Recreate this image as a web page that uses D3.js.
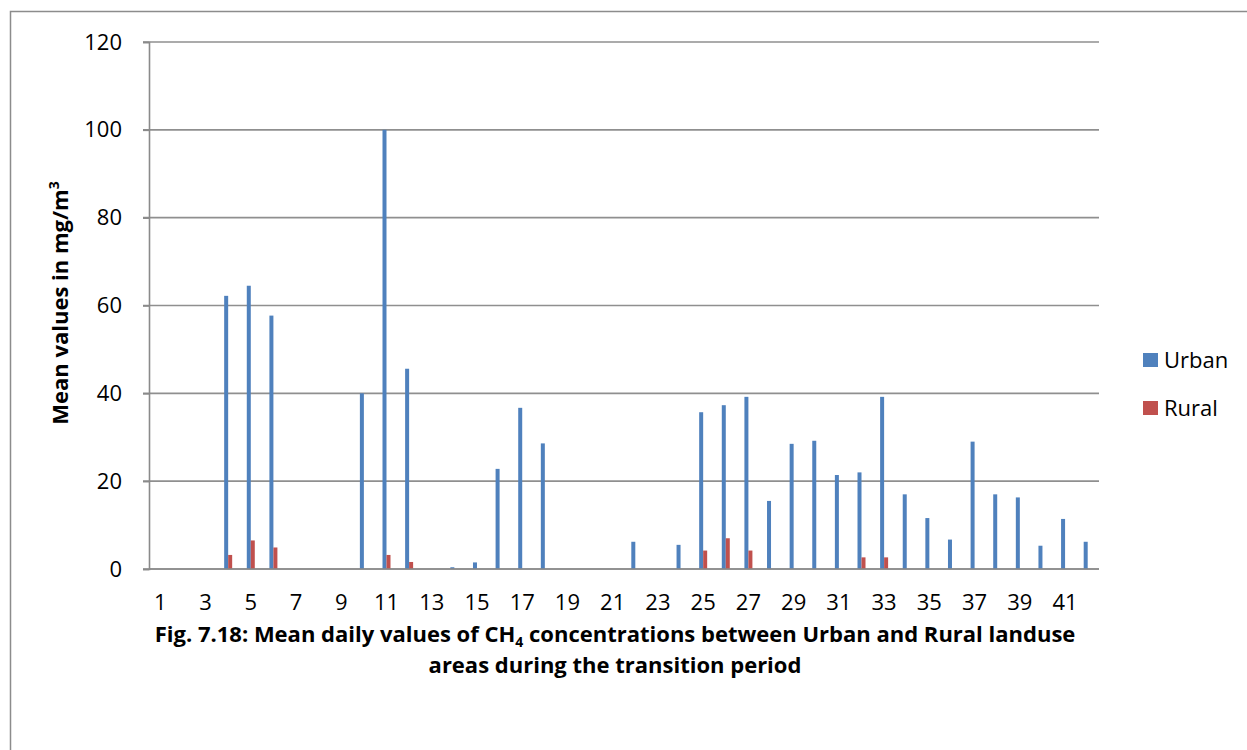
<!DOCTYPE html>
<html>
<head>
<meta charset="utf-8">
<script src="https://cdn.jsdelivr.net/npm/d3@7"></script>
<style>
  html, body { margin: 0; padding: 0; background: #fff; }
  svg { display: block; }
  text { font-family: "Open Sans", sans-serif; }
</style>
</head>
<body>
<svg id="chart" width="1247" height="750"></svg>
<script>
// Days of the transition period
const days = d3.range(1, 43).map(String);

// Mean daily CH4 concentration (mg/m3), urban sites
const urban = [
  0, 0, 0, 62.2, 64.5, 57.7, 0, 0, 0, 40.0,
  100.0, 45.6, 0, 0.4, 1.5, 22.8, 36.7, 28.6, 0, 0,
  0, 6.2, 0, 5.5, 35.7, 37.3, 39.2, 15.5, 28.5, 29.2,
  21.4, 22.0, 39.2, 17.0, 11.6, 6.7, 29.0, 17.0, 16.3, 5.3,
  11.4, 6.2
];

// Mean daily CH4 concentration (mg/m3), rural sites
const rural = [
  0, 0, 0, 3.2, 6.5, 4.9, 0, 0, 0, 0,
  3.2, 1.6, 0, 0, 0, 0, 0, 0, 0, 0,
  0, 0, 0, 0, 4.2, 7.0, 4.2, 0, 0, 0,
  0, 2.65, 2.65, 0, 0, 0, 0, 0, 0, 0,
  0, 0
];

const seriesNames = ["Urban", "Rural"];
const seriesColors = ["#4F81BD", "#C0504D"];
const yTicks = [0, 20, 40, 60, 80, 100, 120];

const FONT = "'Open Sans', sans-serif";
const svg = d3.select("#chart");

// Outer chart frame
svg.append("rect")
  .attr("x", 10.5).attr("y", 11.5)
  .attr("width", 1400).attr("height", 900)
  .attr("fill", "none").attr("stroke", "#8c8c8c").attr("stroke-width", 1.5);

const plot = { left: 149, right: 1099, top: 42, bottom: 569 };

const x0 = d3.scaleBand().domain(days).range([plot.left, plot.right]).padding(0);
const barW = 4;
const x1 = d3.scaleBand().domain(seriesNames)
  .range([x0.bandwidth() / 2 - barW, x0.bandwidth() / 2 + barW]).padding(0);
const y = d3.scaleLinear().domain([0, 120]).range([plot.bottom, plot.top]);

// Horizontal gridlines
svg.append("g")
  .selectAll("line")
  .data(yTicks)
  .join("line")
  .attr("x1", plot.left - 6).attr("x2", plot.right)
  .attr("y1", d => y(d)).attr("y2", d => y(d))
  .attr("stroke", "#8f8f8f").attr("stroke-width", 1.6);

// Y axis
const yAxis = svg.append("g")
  .attr("transform", `translate(${plot.left},0)`)
  .call(d3.axisLeft(y).tickValues(yTicks).tickSize(6).tickPadding(21));
yAxis.attr("font-family", FONT).attr("font-size", 22);
yAxis.select(".domain").attr("stroke", "#8a8a8a").attr("stroke-width", 1.6);
yAxis.selectAll(".tick line").attr("stroke", "#8a8a8a").attr("stroke-width", 1.6);
yAxis.selectAll(".tick text").attr("fill", "#000");

// Bars
const rows = days.map((d, i) => ({ day: d, values: [urban[i], rural[i]] }));
const groups = svg.append("g").selectAll("g")
  .data(rows)
  .join("g")
  .attr("transform", d => `translate(${x0(d.day)},0)`);
groups.selectAll("rect")
  .data(d => d.values.map((v, k) => ({ key: seriesNames[k], value: v, color: seriesColors[k] })))
  .join("rect")
  .attr("x", d => x1(d.key))
  .attr("width", x1.bandwidth())
  .attr("y", d => y(d.value))
  .attr("height", d => y(0) - y(d.value))
  .attr("fill", d => d.color);

// X axis (baseline + odd day labels)
const xAxis = svg.append("g")
  .attr("transform", `translate(0,${plot.bottom})`)
  .call(d3.axisBottom(x0)
    .tickValues(days.filter((d, i) => i % 2 === 0))
    .tickSize(0).tickPadding(25));
xAxis.attr("font-family", FONT).attr("font-size", 22);
xAxis.select(".domain").attr("stroke", "#8a8a8a").attr("stroke-width", 1.6)
  .attr("d", `M${plot.left},0H${plot.right}`);
xAxis.selectAll(".tick text").attr("fill", "#000");

// Y axis title
const yTitle = svg.append("text")
  .attr("transform", "translate(68,303) rotate(-90)")
  .attr("text-anchor", "middle")
  .attr("font-size", 22).attr("font-weight", "bold").attr("fill", "#000");
yTitle.append("tspan").text("Mean values in mg/m");
yTitle.append("tspan").attr("font-size", 14).attr("dy", -9).text("3");

// Legend
const legend = svg.append("g");
seriesNames.forEach((name, k) => {
  const ly = 360 + k * 48;
  legend.append("rect")
    .attr("x", 1143).attr("y", ly - 7).attr("width", 15).attr("height", 14)
    .attr("fill", seriesColors[k]);
  legend.append("text")
    .attr("x", 1164).attr("y", ly).attr("dy", "0.35em")
    .attr("font-size", 22).attr("fill", "#000").text(name);
});

// Caption
const cap1 = svg.append("text")
  .attr("x", 615).attr("y", 642)
  .attr("text-anchor", "middle")
  .attr("font-size", 22).attr("font-weight", "bold").attr("fill", "#000");
cap1.append("tspan").text("Fig. 7.18: Mean daily values of CH");
cap1.append("tspan").attr("font-size", 14).attr("dy", 5).text("4");
cap1.append("tspan").attr("dy", -5).text(" concentrations between Urban and Rural landuse");

svg.append("text")
  .attr("x", 615).attr("y", 673)
  .attr("text-anchor", "middle")
  .attr("font-size", 22).attr("font-weight", "bold").attr("fill", "#000")
  .text("areas during the transition period");
</script>
</body>
</html>
